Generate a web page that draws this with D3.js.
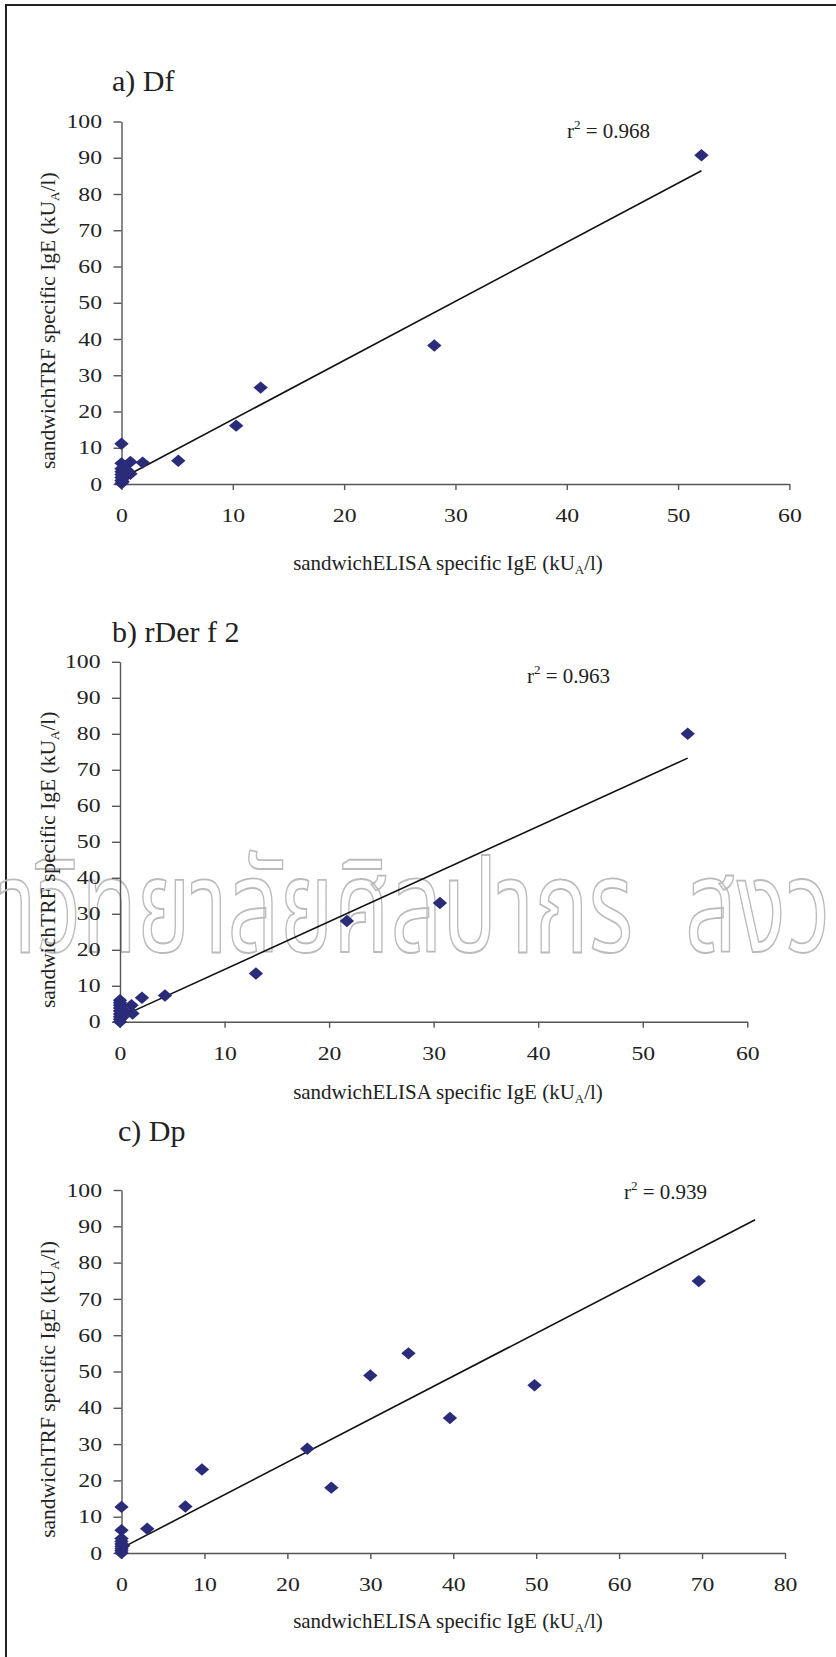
<!DOCTYPE html>
<html>
<head>
<meta charset="utf-8">
<script src="https://cdn.jsdelivr.net/npm/d3@7"></script>
<style>
  body { margin: 0; background: #fff; }
  svg text { font-family: "Liberation Serif", "Times New Roman", Times, "DejaVu Serif", serif; fill: #222; }
</style>
</head>
<body>
<svg id="chart"></svg>
<script>
// a) Df
const dfElisa = [52.1, 28.1, 12.5, 10.3, 5.1, 1.9, 0.8, 0, 0, 0, 0, 0, 0, 0, 0, 0.3, 0.5, 0.8, 0.1];
const dfTrf   = [90.7, 38.2, 26.6, 16.1, 6.4, 5.9, 6.1, 11.1, 5.7, 4.2, 3.4, 2.6, 1.8, 1.0, 0.2, 2.0, 3.8, 2.8, 0.6];
const dfFit = { intercept: 1.5, slope: 1.63, xEnd: 52.1 };

// b) rDer f 2
const derElisa = [54.3, 30.6, 21.7, 13.0, 4.3, 2.1, 1.1, 1.2, 0, 0, 0, 0, 0, 0, 0, 0, 0, 0.3, 0.5];
const derTrf   = [80.0, 33.0, 28.0, 13.4, 7.3, 6.7, 4.6, 2.3, 6.0, 5.3, 4.6, 3.8, 3.0, 2.2, 1.4, 0.7, 0, 3.2, 2.0];
const derFit = { intercept: 1.3, slope: 1.325, xEnd: 54.3 };

// c) Dp
const dpElisa = [69.6, 49.8, 39.6, 34.6, 30.0, 22.4, 25.3, 9.7, 7.7, 3.1, 0, 0, 0, 0, 0, 0, 0, 0, 0, 0.2];
const dpTrf   = [74.9, 46.2, 37.2, 55.0, 48.9, 28.7, 18.0, 23.0, 12.8, 6.7, 12.7, 6.3, 4.0, 3.2, 2.5, 1.8, 1.2, 0.6, 0, 2.0];
const dpFit = { intercept: 1.35, slope: 1.184, xEnd: 76.4 };

const titles = ["a) Df", "b) rDer f 2", "c) Dp"];
const r2Values = ["0.968", "0.963", "0.939"];
const xTicksAB = [0, 10, 20, 30, 40, 50, 60];
const xTicksC = [0, 10, 20, 30, 40, 50, 60, 70, 80];
const yTicks = [0, 10, 20, 30, 40, 50, 60, 70, 80, 90, 100];

const serif = "'Liberation Serif', 'Times New Roman', Times, 'DejaVu Serif', serif";

const W = 836, H = 1657;
const svg = d3.select("#chart").attr("width", W).attr("height", H);
svg.append("rect").attr("width", W).attr("height", H).attr("fill", "#fff");

// page frame (left and top edges only are visible)
svg.append("path")
  .attr("d", `M6,${H} V5 H${W}`)
  .attr("fill", "none")
  .attr("stroke", "#222")
  .attr("stroke-width", 2);

// watermark behind panel b (tall, narrow outline letters)
const wm = svg.append("g").style("font-size", "118px");
[["มหาวิทยาลัยศิลปากร", 633, "end"], ["สงวนลิขสิทธิ์", 685, "start"]].forEach(([t, tx, anchor]) => {
  wm.append("text")
    .attr("transform", `translate(${tx},952) scale(0.77,1.1)`)
    .attr("text-anchor", anchor)
    .style("fill", "none")
    .style("font-family", "'Noto Sans Thai', 'Loma', 'Garuda', 'Waree', sans-serif")
    .attr("stroke", "#bbb").attr("stroke-width", 1.6)
    .attr("vector-effect", "non-scaling-stroke")
    .text(t);
});

const panels = [
  { xs: dfElisa, ys: dfTrf, fit: dfFit, xMax: 60, xTicks: xTicksAB,
    left: 121.5, right: 789.4, top: 121.5, bottom: 484,
    title: [112, 91], r2: [567, 138], xLab: 570 },
  { xs: derElisa, ys: derTrf, fit: derFit, xMax: 60, xTicks: xTicksAB,
    left: 120, right: 747.3, top: 661.8, bottom: 1021.8,
    title: [112, 642], r2: [527, 683], xLab: 1099 },
  { xs: dpElisa, ys: dpTrf, fit: dpFit, xMax: 80, xTicks: xTicksC,
    left: 121.5, right: 785, top: 1190, bottom: 1553,
    title: [118, 1141], r2: [624, 1199], xLab: 1628 }
];

const stretch = 1.32; // tick digits are drawn wide in the original
const diamond = "M0,-6.2L7.2,0L0,6.2L-7.2,0Z";

panels.forEach((p, i) => {
  const x = d3.scaleLinear().domain([0, p.xMax]).range([p.left, p.right]);
  const y = d3.scaleLinear().domain([0, 100]).range([p.bottom, p.top]);

  // title
  svg.append("text")
    .attr("x", p.title[0]).attr("y", p.title[1])
    .style("font-family", serif)
    .style("font-size", "30px")
    .text(titles[i]);

  // axes
  const gx = svg.append("g")
    .attr("transform", `translate(0,${p.bottom})`)
    .call(d3.axisBottom(x).tickValues(p.xTicks).tickSizeInner(6).tickSizeOuter(0).tickFormat(d3.format("d")));
  const gy = svg.append("g")
    .attr("transform", `translate(${p.left},0)`)
    .call(d3.axisLeft(y).tickValues(yTicks).tickSizeInner(8).tickSizeOuter(0).tickFormat(d3.format("d")));

  [gx, gy].forEach(g => {
    g.attr("font-family", serif).attr("font-size", 18);
    g.selectAll("path, line").attr("stroke", "#555").attr("stroke-width", 1.4);
    g.selectAll(".tick text")
      .style("font-family", serif)
      .style("font-size", "18px")
      .style("fill", "#222");
  });
  gx.selectAll(".tick text")
    .attr("x", 0).attr("y", 0).attr("dy", null)
    .attr("transform", `translate(0,38) scale(${stretch},1)`);
  gy.selectAll(".tick text")
    .attr("x", 0).attr("y", 0).attr("dy", "0.34em")
    .attr("transform", `translate(-19.5,0) scale(${stretch},1)`);

  // axis titles
  const xl = svg.append("text")
    .attr("x", 448).attr("y", p.xLab)
    .attr("text-anchor", "middle")
    .style("font-family", serif)
    .style("font-size", "21px");
  xl.append("tspan").text("sandwichELISA specific IgE (kU");
  xl.append("tspan").attr("dy", 4).style("font-size", "13px").text("A");
  xl.append("tspan").attr("dy", -4).text("/l)");

  const cy = (p.top + p.bottom) / 2 + 18;
  const yl = svg.append("text")
    .attr("transform", `translate(55,${cy}) rotate(-90)`)
    .attr("text-anchor", "middle")
    .style("font-family", serif)
    .style("font-size", "21.5px");
  yl.append("tspan").text("sandwichTRF specific IgE (kU");
  yl.append("tspan").attr("dy", 4).style("font-size", "13px").text("A");
  yl.append("tspan").attr("dy", -4).text("/l)");

  // trend line
  svg.append("line")
    .attr("x1", x(0)).attr("y1", y(p.fit.intercept))
    .attr("x2", x(p.fit.xEnd)).attr("y2", y(p.fit.intercept + p.fit.slope * p.fit.xEnd))
    .attr("stroke", "#111").attr("stroke-width", 1.6);

  // points
  svg.append("g").selectAll("path")
    .data(p.xs.map((v, k) => ({ x: v, y: p.ys[k] })))
    .join("path")
    .attr("d", diamond)
    .attr("transform", d => `translate(${x(d.x)},${y(d.y)})`)
    .attr("fill", "#2a2c7a");

  // r^2 label
  const rt = svg.append("text")
    .attr("x", p.r2[0]).attr("y", p.r2[1])
    .style("font-family", serif)
    .style("font-size", "21px");
  rt.append("tspan").text("r");
  rt.append("tspan").attr("dy", -9).style("font-size", "13px").text("2");
  rt.append("tspan").attr("dy", 9).text(" = " + r2Values[i]);
});
</script>
</body>
</html>
